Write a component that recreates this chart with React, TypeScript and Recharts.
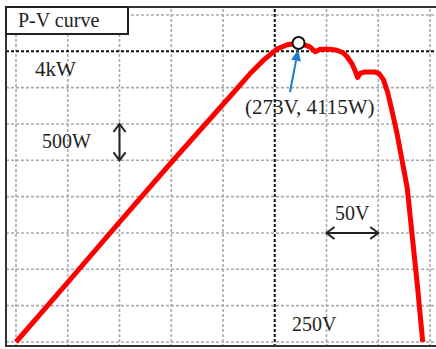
import React from 'react';
import { LineChart, Line, XAxis, YAxis, ReferenceLine, ReferenceDot } from 'recharts';

// P-V curve samples (volts, watts)
const volts = [0, 50, 100, 150, 190, 210, 226, 240, 252, 262, 273, 284, 289, 294, 303, 310, 316, 320, 325, 328, 330, 333, 337, 347, 351, 355, 359, 363, 368, 373, 378, 384, 388, 393];
const watts = [0, 820, 1650, 2470, 3110, 3430, 3690, 3890, 4030, 4090, 4115, 4060, 3995, 4030, 4030, 4015, 3980, 3925, 3820, 3720, 3640, 3700, 3715, 3715, 3690, 3610, 3440, 3200, 2880, 2500, 2120, 1300, 750, 0];

const vTicks = [0, 50, 100, 150, 200, 250, 300, 350, 400];
const pTicks = [0, 500, 1000, 1500, 2000, 2500, 3000, 3500, 4000, 4500];

const mpp = { v: 273, p: 4115 };

const data = volts.map((v, i) => ({ v, p: watts[i] }));

const serif = '"Liberation Serif", "DejaVu Serif", serif';

const BlueArrow = (props: any) => {
    const { x1, y1, x2, y2 } = props;
    const a = Math.atan2(y2 - y1, x2 - x1);
    const len = 11, w = 5;
    const bx = x2 - len * Math.cos(a), by = y2 - len * Math.sin(a);
    const px = -Math.sin(a) * w, py = Math.cos(a) * w;
    return (
        <g>
            <line x1={x1} y1={y1} x2={bx} y2={by} stroke="#1f7ac8" strokeWidth={2} />
            <polygon points={`${x2},${y2} ${bx + px},${by + py} ${bx - px},${by - py}`} fill="#1f7ac8" />
        </g>
    );
};

const DoubleArrow = (props: any) => {
    const { x1, y1, x2, y2 } = props;
    const a = Math.atan2(y2 - y1, x2 - x1);
    const len = 8, w = 6;
    const head = (x: number, y: number, dir: number) => {
        const bx = x - dir * len * Math.cos(a), by = y - dir * len * Math.sin(a);
        const px = -Math.sin(a) * w, py = Math.cos(a) * w;
        return <polyline points={`${bx + px},${by + py} ${x},${y} ${bx - px},${by - py}`} fill="none" stroke="#222" strokeWidth={2} />;
    };
    return (
        <g>
            <line x1={x1} y1={y1} x2={x2} y2={y2} stroke="#222" strokeWidth={2} />
            {head(x1, y1, -1)}
            {head(x2, y2, 1)}
        </g>
    );
};

const txt = (left: number, top: number, s: string, size = 20) => (
    <div style={{ position: 'absolute', left, top, fontFamily: serif, fontSize: size, color: '#222', lineHeight: 1, whiteSpace: 'nowrap' }}>{s}</div>
);

const App: React.FC = () => {
    return (
        <div style={{ position: 'absolute', left: 0, top: 0, width: 436, height: 349, background: '#fff', overflow: 'hidden' }}>
            <LineChart width={436} height={349} data={data} margin={{ top: 7, right: 0, bottom: 2, left: 6 }}>
                <XAxis dataKey="v" type="number" domain={[-9.66, 405.8]} allowDataOverflow hide />
                <YAxis type="number" domain={[-69, 4610]} allowDataOverflow hide />
                {vTicks.map((v) => (
                    <ReferenceLine key={'v' + v} x={v} stroke={v === 250 ? '#111' : '#aaa'} strokeWidth={v === 250 ? 2 : 1.6} strokeDasharray="3 2" />
                ))}
                {pTicks.map((p) => (
                    <ReferenceLine key={'p' + p} y={p} stroke={p === 4000 ? '#111' : '#aaa'} strokeWidth={p === 4000 ? 2 : 1.6} strokeDasharray="3 2" />
                ))}
                <ReferenceLine segment={[{ x: 100, y: 2500 }, { x: 100, y: 3000 }]} shape={DoubleArrow} />
                <ReferenceLine segment={[{ x: 300, y: 1500 }, { x: 350, y: 1500 }]} shape={DoubleArrow} />
                <Line dataKey="p" type="linear" stroke="#ff0000" strokeWidth={5} dot={false} strokeLinejoin="round" isAnimationActive={false} />
                <ReferenceLine segment={[{ x: 264.7, y: 3440 }, { x: 272.6, y: 4020 }]} shape={BlueArrow} />
                <ReferenceDot x={mpp.v} y={mpp.p} r={6} fill="#fff" stroke="#111" strokeWidth={2} />
            </LineChart>
            <div style={{ position: 'absolute', left: 5, top: 6, width: 440, height: 337, borderLeft: '2px solid #333', borderTop: '2px solid #333', borderBottom: '2px solid #333', pointerEvents: 'none' }} />
            <div style={{ position: 'absolute', left: 5, top: 6, width: 109, height: 25, border: '2px solid #222', background: '#fff', fontFamily: serif, fontSize: 20, color: '#222', lineHeight: '25px', paddingLeft: 11, boxSizing: 'content-box' }}>P-V curve</div>
            {txt(35, 59, '4kW', 21)}
            {txt(42, 131, '500W')}
            {txt(245, 97, '(273V, 4115W)', 21)}
            {txt(335, 203, '50V')}
            {txt(292, 314, '250V')}
        </div>
    );
};

export default App;
